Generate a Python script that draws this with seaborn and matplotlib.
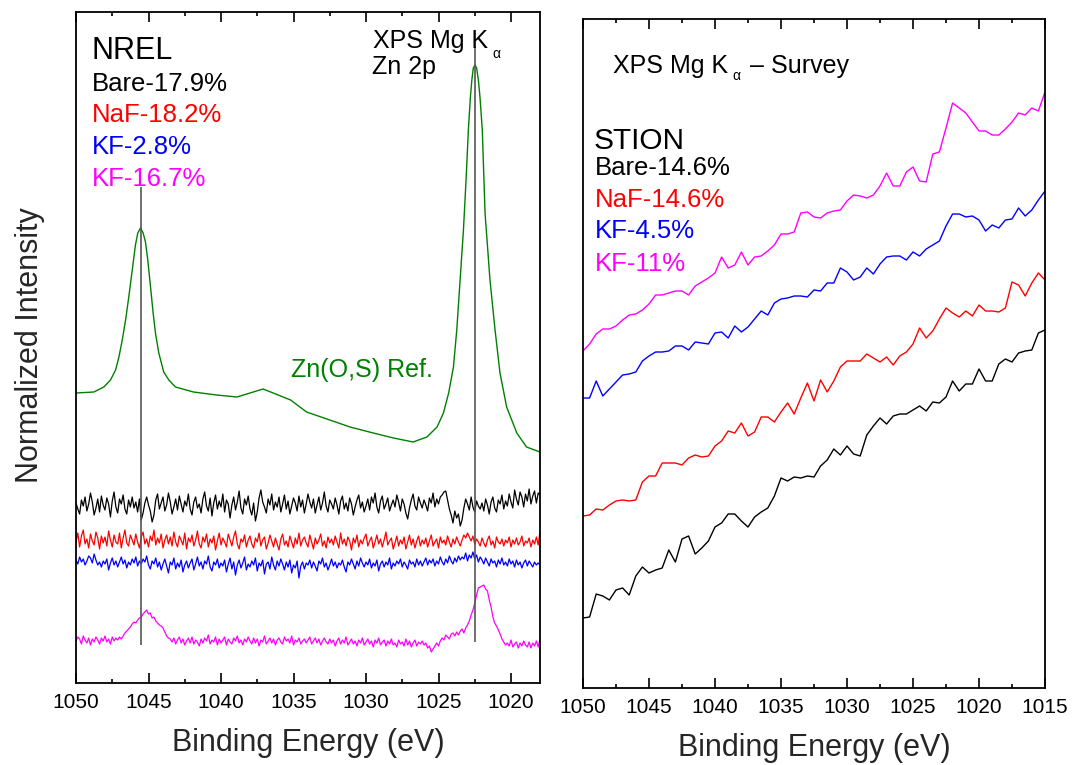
import numpy as np
import pandas as pd
import matplotlib
matplotlib.use("Agg")
import matplotlib.pyplot as plt
from matplotlib.ticker import MultipleLocator
import seaborn as sns

# ---------------- data: left panel (NREL, Zn 2p) ----------------
zn_ref_energy = [1050.0, 1048.77, 1048.08, 1047.62, 1047.27, 1047.04, 1046.81, 1046.58, 1046.36,
                 1046.12, 1045.9, 1045.74, 1045.55, 1045.37, 1045.21, 1045.05, 1044.86, 1044.68,
                 1044.52, 1044.29, 1043.95, 1043.6, 1043.14, 1041.9, 1040.3, 1038.9, 1038.0,
                 1037.1, 1036.4, 1035.2, 1034.1, 1032.7, 1031.1, 1029.5, 1028.1, 1026.75,
                 1025.8, 1025.1, 1024.66, 1024.3, 1023.97, 1023.74, 1023.51, 1023.28, 1023.1,
                 1022.94, 1022.8, 1022.7, 1022.6, 1022.48, 1022.37, 1022.25, 1022.14, 1021.98,
                 1021.79, 1021.45, 1021.1, 1020.76, 1020.3, 1019.6, 1018.93, 1018.0]
zn_ref_int = [290, 291, 296, 303, 313, 326, 343, 363, 386,
              413, 438, 450, 455, 450, 441, 423, 396, 370,
              350, 330, 311, 303, 296, 291, 288, 286, 290,
              294, 290, 283, 271, 264, 256, 250, 245, 241,
              246, 256, 270, 290, 316, 353, 403, 453, 503,
              553, 586, 603, 615, 618, 615, 603, 586, 553,
              470, 403, 353, 310, 276, 250, 236, 231]

nrel_energy = np.arange(1050.0, 1017.99, -0.125)
nrel_bare = [180, 174, 169, 183, 177, 186, 172, 179, 190, 181, 168, 175, 184, 171, 187, 178,
             173, 185, 179, 166, 182, 191, 176, 170, 184, 179, 188, 174, 169, 183, 176, 186,
             175, 181, 171, 184, 163, 170, 180, 186, 178, 172, 161, 168, 183, 189, 174, 180,
             186, 172, 178, 190, 181, 169, 176, 184, 173, 187, 179, 171, 182, 177, 189, 174,
             168, 181, 186, 175, 179, 170, 184, 191, 177, 172, 185, 167, 180, 188, 174, 182,
             176, 189, 171, 183, 179, 165, 178, 186, 173, 181, 192, 175, 169, 184, 178, 187,
             174, 168, 180, 162, 171, 185, 193, 181, 176, 170, 184, 178, 189, 173, 181, 176,
             186, 171, 179, 188, 174, 182, 169, 177, 185, 180, 172, 187, 176, 183, 170, 179,
             189, 181, 175, 184, 170, 178, 186, 173, 180, 191, 177, 171, 183, 179, 174, 185,
             178, 169, 182, 187, 174, 180, 172, 185, 179, 168, 176, 183, 188, 175, 181, 171,
             177, 184, 173, 186, 180, 190, 176, 170, 182, 187, 174, 179, 185, 172, 178, 183,
             176, 188, 181, 172, 184, 179, 170, 164, 175, 183, 189, 177, 173, 186, 180, 175,
             183, 178, 172, 185, 180, 190, 176, 184, 179, 186, 188, 191, 192, 183, 174, 168,
             160, 172, 165, 169, 157, 163, 175, 184, 179, 173, 186, 176, 171, 182, 177, 174,
             180, 172, 184, 178, 169, 181, 186, 175, 171, 183, 179, 188, 174, 182, 177, 189,
             181, 175, 193, 184, 178, 191, 186, 176, 189, 182, 194, 179, 187, 192, 180, 190,
             188]
nrel_naf = [141, 150, 136, 147, 153, 139, 144, 135, 149, 142, 138, 151, 145, 134, 147, 140,
            146, 137, 152, 143, 136, 148, 141, 139, 150, 135, 145, 153, 140, 137, 148, 143,
            138, 149, 141, 135, 146, 151, 139, 144, 136, 147, 142, 153, 138, 145, 140, 149,
            135, 143, 148, 139, 146, 137, 151, 141, 136, 147, 143, 138, 150, 134, 145, 141,
            148, 137, 143, 152, 139, 135, 146, 141, 149, 136, 144, 140, 147, 133, 142, 150,
            138, 145, 141, 136, 149, 143, 137, 146, 152, 139, 134, 144, 141, 148, 136, 143,
            147, 139, 135, 145, 141, 150, 137, 143, 146, 134, 140, 148, 142, 136, 145, 139,
            133, 144, 149, 138, 142, 136, 147, 141, 135, 145, 139, 150, 137, 143, 146, 140,
            136, 148, 141, 134, 145, 139, 143, 149, 137, 142, 135, 146, 140, 144, 138, 147,
            141, 135, 150, 139, 144, 137, 146, 142, 133, 145, 140, 148, 136, 143, 139, 145,
            149, 137, 142, 146, 135, 141, 148, 139, 144, 136, 143, 151, 138, 142, 145, 134,
            140, 147, 137, 143, 139, 146, 134, 141, 148, 138, 144, 135, 142, 147, 137, 143,
            139, 145, 136, 142, 148, 137, 141, 144, 135, 146, 140, 143, 138, 147, 141, 136,
            144, 139, 146, 141, 137, 143, 148, 145, 150, 146, 142, 147, 139, 144, 141, 137,
            145, 140, 136, 143, 147, 138, 142, 135, 146, 141, 139, 144, 137, 143, 140, 146,
            136, 143, 139, 145, 138, 141, 147, 137, 142, 140, 145, 136, 143, 139, 146, 138,
            152]
nrel_kf_low = [123, 119, 126, 121, 124, 118, 122, 127, 125, 120, 129, 123, 118, 121, 116, 122,
               119, 124, 113, 120, 125, 118, 122, 116, 121, 126, 119, 123, 115, 121, 118, 124,
               120, 126, 117, 122, 119, 124, 121, 127, 118, 114, 122, 119, 125, 116, 121, 113,
               119, 124, 117, 110, 121, 118, 125, 114, 120, 116, 123, 111, 118, 122, 115, 120,
               124, 113, 119, 126, 117, 121, 114, 122, 119, 127, 116, 112, 121, 118, 124, 115,
               120, 117, 123, 111, 119, 125, 114, 121, 108, 118, 123, 115, 120, 126, 113, 119,
               116, 122, 118, 125, 112, 120, 117, 123, 109, 119, 121, 114, 126, 118, 113, 122,
               117, 124, 119, 113, 121, 116, 123, 110, 118, 115, 122, 105, 117, 121, 114, 120,
               118, 123, 115, 121, 117, 112, 122, 119, 125, 116, 120, 113, 118, 124, 117, 121,
               115, 120, 118, 123, 116, 111, 121, 118, 124, 119, 114, 122, 117, 125, 120, 116,
               121, 118, 124, 115, 120, 117, 123, 112, 119, 122, 116, 121, 118, 125, 114, 120,
               117, 122, 119, 124, 116, 121, 118, 114, 123, 119, 121, 116, 124, 118, 122, 117,
               121, 125, 118, 123, 120, 124, 117, 122, 119, 126, 121, 118, 124, 120, 127, 122,
               119, 125, 121, 127, 123, 126, 124, 130, 122, 128, 125, 131, 124, 128, 121, 126,
               123, 119, 125, 121, 117, 124, 120, 122, 116, 123, 119, 125, 118, 121, 117, 124,
               119, 122, 116, 123, 118, 121, 115, 120, 123, 117, 122, 119, 116, 121, 118, 120,
               118]
nrel_kf_high = [42, 46, 44, 39, 47, 43, 40, 45, 38, 44, 41, 46, 43, 39, 45, 42,
                47, 41, 44, 39, 46, 42, 45, 43, 46, 44, 47, 50, 52, 54, 56, 59,
                61, 60, 63, 65, 66, 69, 71, 73, 69, 70, 65, 66, 62, 60, 58, 57,
                55, 51, 47, 45, 44, 41, 45, 39, 43, 46, 40, 44, 38, 42, 45, 40,
                46, 39, 43, 41, 37, 44, 40, 45, 42, 48, 39, 43, 41, 46, 38, 44,
                40, 43, 46, 38, 44, 41, 39, 45, 42, 47, 40, 43, 38, 44, 41, 46,
                42, 39, 45, 40, 44, 37, 43, 41, 47, 39, 42, 45, 40, 44, 38, 43,
                45, 41, 39, 46, 42, 44, 40, 47, 38, 43, 41, 45, 39, 42, 44, 40,
                43, 46, 39, 42, 45, 40, 44, 38, 42, 45, 41, 39, 44, 40, 43, 37,
                42, 45, 39, 43, 40, 46, 38, 41, 44, 39, 42, 37, 43, 40, 45, 38,
                41, 44, 39, 42, 36, 43, 40, 45, 38, 41, 43, 37, 42, 39, 44, 38,
                40, 36, 43, 39, 41, 37, 44, 38, 42, 36, 40, 43, 37, 41, 39, 42,
                38, 40, 35, 37, 31, 34, 37, 40, 37, 42, 45, 43, 48, 46, 44, 49,
                50, 47, 51, 48, 52, 54, 50, 55, 58, 62, 68, 73, 80, 88, 95, 96,
                97, 98, 94, 92, 83, 76, 66, 60, 57, 53, 49, 44, 41, 38, 40, 37,
                43, 36, 39, 41, 35, 40, 37, 42, 38, 36, 41, 35, 40, 37, 42, 36,
                44]
peak_positions = [1045.55, 1022.48]
peak_line_low = [38, 41]
peak_line_high = [496, 636]

# ---------------- data: right panel (STION, survey) ----------------
stion_energy = np.arange(1050.0, 1014.99, -0.5)
stion_bare = [70, 71, 94, 92, 88, 98, 100, 93, 112, 121, 115, 118, 120, 138, 126, 149, 152, 134,
              140, 147, 161, 165, 174, 174, 167, 161, 171, 176, 180, 192, 210, 207, 211, 210,
              212, 211,
              222, 228, 239, 233, 242, 234, 232, 253, 262, 270, 264, 272, 274, 274, 278, 282,
              277, 286, 285, 291, 307, 297, 304, 304, 319, 307, 307, 324, 329, 326, 335, 337,
              338, 355, 358]
stion_naf = [172, 173, 179, 178, 183, 187, 188, 187, 188, 206, 212, 212, 225, 225, 225, 223,
             230, 233, 231, 232, 242, 247, 257, 255, 265, 252, 256, 271, 271, 266, 276, 285,
             274, 290, 305, 287,
             308, 296, 307, 321, 327, 327, 327, 334, 330, 326, 331, 323, 332, 336, 344, 360,
             350, 357, 369, 380, 375, 371, 377, 372, 383, 377, 377, 376, 380, 406, 403, 392,
             405, 415, 408]
stion_kf_low = [290, 290, 307, 292, 299, 306, 313, 314, 316, 327, 332, 336, 336, 337, 342, 342,
                338, 346, 345, 344, 355, 356, 350, 362, 356, 361, 369, 377, 373, 385, 389, 390,
                392, 392, 391, 398,
                397, 405, 405, 420, 416, 408, 411, 420, 414, 424, 431, 432, 432, 428, 436, 432,
                439, 443, 447, 462, 474, 474, 471, 472, 468, 457, 463, 460, 468, 469, 480, 472,
                478, 488, 497]
stion_kf_high = [337, 344, 354, 359, 359, 362, 368, 373, 374, 378, 384, 393, 393, 395, 397, 397,
                 393, 402, 406, 410, 415, 431, 420, 423, 436, 423, 431, 432, 437, 443, 454, 454,
                 456, 475, 476, 471,
                 470, 475, 477, 478, 487, 493, 492, 490, 493, 502, 515, 502, 502, 516, 521, 507,
                 506, 534, 536, 560, 585, 580, 575, 566, 557, 557, 553, 553, 559, 566, 575, 573,
                 580, 577, 596]

nrel_labels = ["Bare-17.9%", "NaF-18.2%", "KF-2.8%", "KF-16.7%"]
stion_labels = ["Bare-14.6%", "NaF-14.6%", "KF-4.5%", "KF-11%"]
series_colors = ["#000000", "#FF0000", "#0000FF", "#FF00FF"]

# ---------------- style ----------------
sns.set_style("ticks")
plt.rcParams["font.family"] = ["Liberation Sans", "DejaVu Sans"]
plt.rcParams["axes.linewidth"] = 1.3

W, H = 1073, 765
fig = plt.figure(figsize=(W / 100, H / 100), dpi=100)


def px_axes(l, t, r, b):
    return fig.add_axes([l / W, 1 - b / H, (r - l) / W, (b - t) / H])


def px_text(x, y, s, size, color="black", **kw):
    fig.text(x / W, 1 - y / H, s, fontsize=size, color=color, ha="left", va="baseline", **kw)


ax1 = px_axes(76, 12, 540, 683)
ax2 = px_axes(583, 19, 1045, 688)

# left panel
df_left = pd.concat([
    pd.DataFrame({"energy": nrel_energy, "intensity": vals, "sample": lab})
    for lab, vals in zip(nrel_labels, [nrel_bare, nrel_naf, nrel_kf_low, nrel_kf_high])
])
sns.lineplot(data=df_left, x="energy", y="intensity", hue="sample",
             palette=dict(zip(nrel_labels, series_colors)), estimator=None, sort=False,
             legend=False, linewidth=0.9, ax=ax1)
sns.lineplot(x=zn_ref_energy, y=zn_ref_int, color="#008000", estimator=None, sort=False,
             linewidth=1.0, ax=ax1)
ax1.vlines(peak_positions, peak_line_low, peak_line_high, color="#555555", linewidth=1.2, zorder=5)
ax1.set_xlim(1050, 1018)
ax1.set_ylim(0, 671)

# right panel
df_right = pd.concat([
    pd.DataFrame({"energy": stion_energy, "intensity": vals, "sample": lab})
    for lab, vals in zip(stion_labels, [stion_bare, stion_naf, stion_kf_low, stion_kf_high])
])
sns.lineplot(data=df_right, x="energy", y="intensity", hue="sample",
             palette=dict(zip(stion_labels, series_colors)), estimator=None, sort=False,
             legend=False, linewidth=1.0, ax=ax2)
ax2.set_xlim(1050, 1015)
ax2.set_ylim(0, 669)

for ax in (ax1, ax2):
    ax.set_xlabel("")
    ax.set_ylabel("")
    ax.set_yticks([])
    ax.xaxis.set_major_locator(MultipleLocator(5))
    ax.xaxis.set_minor_locator(MultipleLocator(2.5))
    ax.tick_params(axis="x", which="both", direction="in", top=True, bottom=True,
                   labelsize=15, pad=7.5, width=1.2, colors="black")
    ax.tick_params(axis="x", which="major", length=7)
    ax.tick_params(axis="x", which="minor", length=3)
    for sp in ax.spines.values():
        sp.set_visible(True)
        sp.set_color("black")

# axis titles
fig.text(30 / W, 1 - 345 / H, "Normalized Intensity", rotation=90, fontsize=22,
         ha="center", va="center")
fig.text(308 / W, 1 - 743 / H, "Binding Energy (eV)", fontsize=22, ha="center", va="center")
fig.text(814 / W, 1 - 748 / H, "Binding Energy (eV)", fontsize=22, ha="center", va="center")

# left annotations
px_text(92, 59, "NREL", 22)
for lab, col, yb in zip(nrel_labels, series_colors, [91, 122, 154, 186]):
    px_text(92, yb, lab, 18.5, col)
px_text(373, 48, "XPS Mg K", 18)
px_text(492, 57.5, "α", 10)
px_text(372, 74, "Zn 2p", 18)
px_text(291, 377, "Zn(O,S) Ref.", 18, "#008000")

# right annotations
px_text(613, 72.7, "XPS Mg K", 18)
px_text(732, 80.5, "α", 10)
px_text(750, 72.7, "– Survey", 18)
px_text(594, 149, "STION", 21.5)
for lab, col, yb in zip(stion_labels, series_colors, [175, 207, 238, 271]):
    px_text(595, yb, lab, 18.5, col)

fig.savefig("out.png", dpi=100)
